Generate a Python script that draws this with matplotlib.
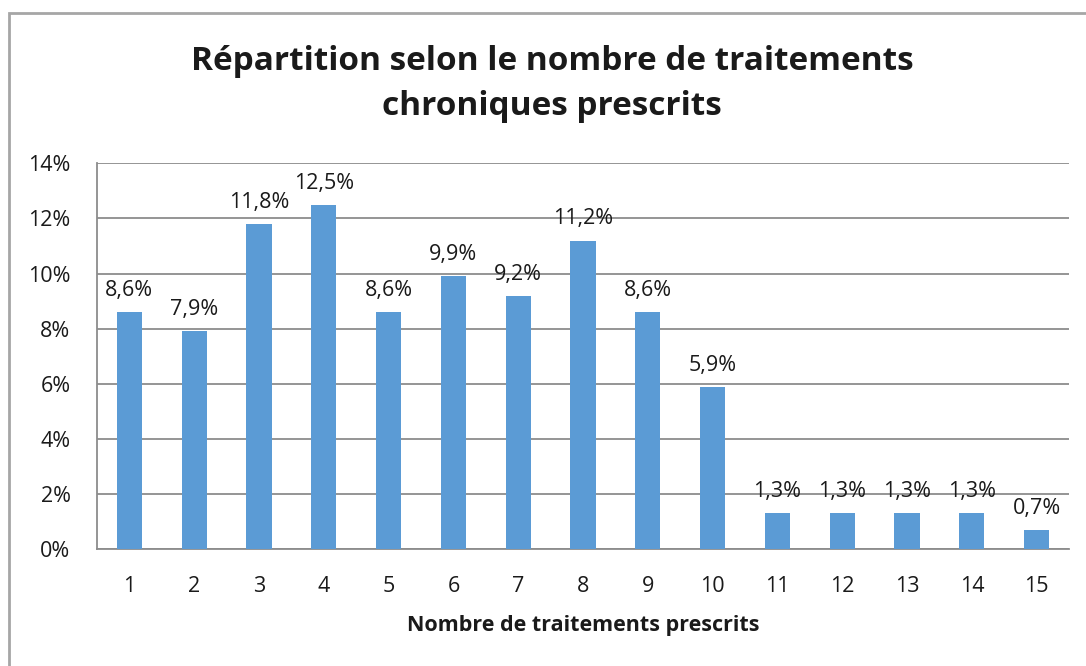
import matplotlib.pyplot as plt
from matplotlib.patches import Rectangle

# données
categories = [str(i) for i in range(1, 16)]
valeurs = [8.6, 7.9, 11.8, 12.5, 8.6, 9.9, 9.2, 11.2, 8.6, 5.9, 1.3, 1.3, 1.3, 1.3, 0.7]
yticks = [0, 2, 4, 6, 8, 10, 12, 14]

plt.rcParams['font.family'] = ['Open Sans', 'DejaVu Sans']

fig = plt.figure(figsize=(10.86, 6.66), dpi=100)
ax = fig.add_axes([97 / 1086, 116.7 / 666, 972 / 1086, 386 / 666])

# cadre du graphique
fig.patches.append(Rectangle((8.5 / 1086, -0.1), 1.2, (666 - 13) / 666 + 0.1,
                             transform=fig.transFigure, fill=False,
                             edgecolor='#a6a6a6', linewidth=2))

x = list(range(len(categories)))
bars = ax.bar(x, valeurs, width=0.386, color='#5b9bd5', zorder=3)
for xi, v in zip(x, valeurs):
    ax.annotate(f"{v:.1f}%".replace('.', ','), (xi, v), xytext=(0, 8),
                textcoords='offset points', ha='center', va='bottom',
                fontsize=15.5, color='#1a1a1a')

ax.set_xlim(-0.5, len(categories) - 0.5)
ax.set_ylim(0, 14)
ax.set_yticks(yticks)
ax.set_yticklabels([f"{t}%" for t in yticks])
ax.set_xticks(x)
ax.set_xticklabels(categories)
ax.yaxis.grid(True, color='#8c8c8c', linewidth=1.3, zorder=0)
ax.tick_params(axis='both', length=0, labelsize=15.5, labelcolor='#1a1a1a')
ax.tick_params(axis='y', pad=19)
ax.tick_params(axis='x', pad=19)
for s in ['top', 'right']:
    ax.spines[s].set_visible(False)
for s in ['left', 'bottom']:
    ax.spines[s].set_color('#8c8c8c')
    ax.spines[s].set_linewidth(1.3)

ax.set_xlabel('Nombre de traitements prescrits', fontsize=15.5,
              fontweight='bold', labelpad=13, color='#1a1a1a')
fig.text(552 / 1086, 1 - 84 / 666,
         'Répartition selon le nombre de traitements\nchroniques prescrits',
         ha='center', va='center', fontsize=24, fontweight='bold',
         linespacing=1.45, color='#1a1a1a')

fig.savefig('out.png', dpi=100)
